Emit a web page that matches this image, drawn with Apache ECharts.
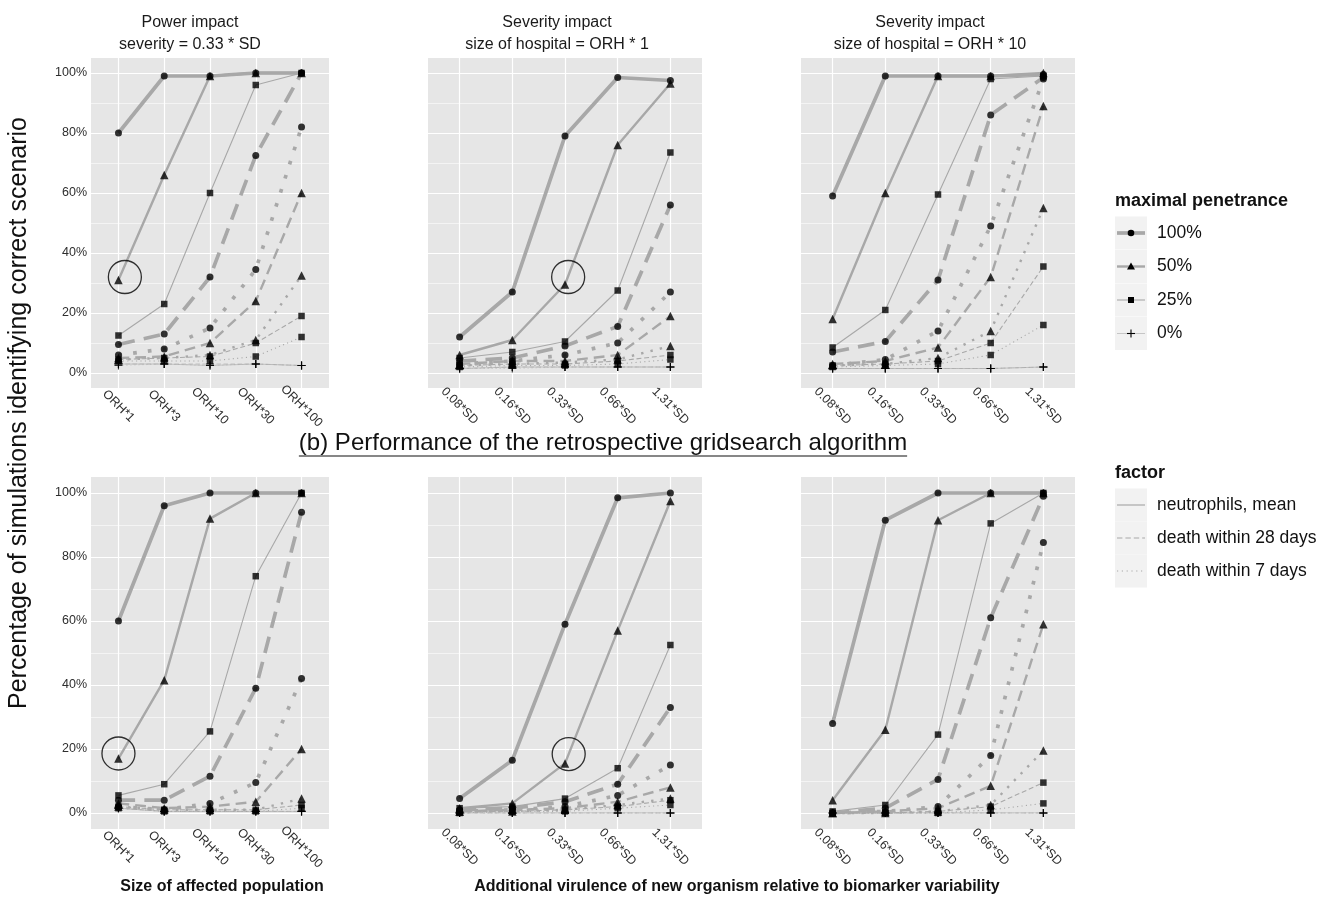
<!DOCTYPE html>
<html>
<head>
<meta charset="utf-8">
<script src="https://cdn.jsdelivr.net/npm/echarts@6/dist/echarts.min.js"></script>
<style>
    html, body { margin: 0; padding: 0; background: #fff; }
    #chart { width: 1321px; height: 902px; }
</style>
</head>
<body>
<div id="chart"></div>
<script>
// categories / labels
var orhCats = ['ORH*1', 'ORH*3', 'ORH*10', 'ORH*30', 'ORH*100'];
var sdCats = ['0.08*SD', '0.16*SD', '0.33*SD', '0.66*SD', '1.31*SD'];
var penetrance = ['100%', '50%', '25%', '0%'];
var factors = ['neutrophils, mean', 'death within 28 days', 'death within 7 days'];
var yTickStep = 20;

// % of simulations, rows = penetrance 100% / 50% / 25% / 0%
// top row: power impact (severity = 0.33*SD)
var a1Neut = [[80, 99, 99, 100, 100], [31, 66, 99, 100, 100], [12.5, 23, 60, 96, 100], [3, 3, 2.5, 3, 2.5]];
var a1D28 = [[9.5, 13, 32, 72.5, 100], [5, 5.5, 10, 24, 60], [4.5, 5, 5.5, 10, 19], [3, 3, 3, 3, 2.5]];
var a1D7 = [[6, 8, 15, 34.5, 82], [4.5, 5, 6, 11, 32.5], [4, 4, 4, 5.5, 12], [2.5, 3, 2.5, 3, 2.5]];
// top row: severity impact, hospital = ORH*1
var a2Neut = [[12, 27, 79, 98.5, 97.5], [6, 11, 29.5, 76, 96.5], [5, 7, 10.5, 27.5, 73.5], [1.5, 2, 2, 2, 2]];
var a2D28 = [[4, 5, 9, 15.5, 56], [3, 4, 4, 6, 19], [2.5, 3, 3, 4, 6], [1.5, 2, 2, 2, 2]];
var a2D7 = [[3, 4, 6, 10, 27], [2.5, 3, 3.5, 4.5, 9], [2, 2.5, 2.5, 3, 4.5], [1.5, 1.5, 2, 2, 2]];
// top row: severity impact, hospital = ORH*10
var a3Neut = [[59, 99, 99, 99, 99.5], [18, 60, 99, 99, 100], [8.5, 21, 59.5, 98, 99], [1.5, 1.5, 1.5, 1.5, 2]];
var a3D28 = [[7, 10.5, 31, 86, 98.5], [3, 4, 8.5, 32, 89], [2.5, 3, 4, 10, 35.5], [1.5, 1.5, 1.5, 1.5, 2]];
var a3D7 = [[2.5, 4.5, 14, 49, 98], [2.5, 3, 5, 14, 55], [2, 2.5, 3, 6, 16], [1.5, 1.5, 1.5, 1.5, 2]];
// (b) retrospective gridsearch
var b1Neut = [[60, 96, 100, 100, 100], [17, 41.5, 92, 100, 100], [5.5, 9, 25.5, 74, 100], [1.5, 0.5, 0.5, 0.5, 0.5]];
var b1D28 = [[4, 4, 11.5, 39, 94], [3, 1.5, 2, 3.5, 20], [2, 1, 1, 1, 2.5], [1.5, 0.5, 0.5, 0.5, 0.5]];
var b1D7 = [[2, 1, 3, 9.5, 42], [2, 1, 1, 1, 4.5], [1.5, 0.5, 0.5, 0.5, 1.5], [1.5, 0.5, 0.5, 0.5, 0.5]];
var b2Neut = [[4.5, 16.5, 59, 98.5, 100], [1.5, 3, 15.5, 57, 97.5], [1.5, 2, 4.5, 14, 52.5], [0, 0, 0, 0, 0]];
var b2D28 = [[1, 1.5, 3.5, 9, 33], [0.5, 1, 1.5, 3.5, 8], [0.5, 0.5, 1, 2, 4], [0, 0, 0, 0, 0]];
var b2D7 = [[0.5, 1, 2, 5.5, 15], [0.5, 0.5, 1, 2.5, 4.5], [0, 0.5, 0.5, 1.5, 2.5], [0, 0, 0, 0, 0]];
var b3Neut = [[28, 91.5, 100, 100, 100], [4, 26, 91.5, 100, 100], [0.5, 2.5, 24.5, 90.5, 100], [0, 0, 0, 0, 0]];
var b3D28 = [[0, 1.5, 10.5, 61, 99], [0, 0.5, 1.5, 8.5, 59], [0, 0, 0.5, 2, 9.5], [0, 0, 0, 0, 0]];
var b3D7 = [[0, 0.5, 2, 18, 84.5], [0, 0, 0.5, 2.5, 19.5], [0, 0, 0, 1, 3], [0, 0, 0, 0, 0]];

// circled points (x index, y %)
var a1Circle = [0.14, 32];
var a2Circle = [2.06, 32];
var b1Circle = [0, 18.6];
var b2Circle = [2.07, 18.4];

var FONT = '"Liberation Sans", Arial, Helvetica, sans-serif';
var LINE_GREY = '#a8a8a8';
var PANEL_BG = '#e6e6e6';
var TICK_TEXT = '#2e2e2e';
var TRANSP = 'rgba(0,0,0,0)';
var PLUS = 'path://M43,0h14v43h43v14h-43v43h-14v-43h-43v-14h43z';

var penWidth = [3.7, 2.4, 1.1, 0.6];
var penSymbol = ['circle', 'triangle', 'rect', PLUS];
var penSymbolSize = [7, 8.5, 6.5, 8];

var colLeft = [91, 428, 801], colWidth = [238, 274, 274];
var rowTop = [58, 477], rowHeight = [330, 352];

var panels = [
    { row: 0, col: 0, cats: orhCats, sets: [a1Neut, a1D28, a1D7], circle: a1Circle },
    { row: 0, col: 1, cats: sdCats, sets: [a2Neut, a2D28, a2D7], circle: a2Circle },
    { row: 0, col: 2, cats: sdCats, sets: [a3Neut, a3D28, a3D7], circle: null },
    { row: 1, col: 0, cats: orhCats, sets: [b1Neut, b1D28, b1D7], circle: b1Circle },
    { row: 1, col: 1, cats: sdCats, sets: [b2Neut, b2D28, b2D7], circle: b2Circle },
    { row: 1, col: 2, cats: sdCats, sets: [b3Neut, b3D28, b3D7], circle: null }
];

function dashFor(f, w) {
    var u = Math.max(w, 1);
    if (f === 0) return 'solid';
    if (f === 1) return [4.5 * u, 2.5 * u];
    return [u, 3 * u];
}

var grids = [], xAxes = [], yAxes = [], series = [];

panels.forEach(function (p, i) {
    grids.push({
        left: colLeft[p.col], top: rowTop[p.row],
        width: colWidth[p.col], height: rowHeight[p.row],
        show: true, backgroundColor: PANEL_BG, borderWidth: 0,
        containLabel: false, outerBoundsMode: 'none'
    });
    var cats = p.cats;
    // ticks every 0.2 from -0.6: every 5th one is a category
    xAxes.push({
        gridIndex: i, type: 'value', min: -0.6, max: 4.6, interval: 0.2,
        axisLine: { show: false }, axisTick: { show: false },
        splitLine: { show: true, lineStyle: { color: [TRANSP, TRANSP, TRANSP, '#ffffff', TRANSP], width: 1.2 } },
        axisLabel: {
            rotate: -45, align: 'center', verticalAlign: 'middle', margin: 18,
            fontSize: 12.5, fontFamily: FONT, color: TICK_TEXT,
            formatter: function (v) {
                var k = Math.round(v);
                return (Math.abs(v - k) < 1e-6 && k >= 0 && k < cats.length) ? cats[k] : '';
            }
        }
    });
    // ticks every 5 from -5: majors at 0,20..; minors at 10,30..
    yAxes.push({
        gridIndex: i, type: 'value', min: -5, max: 105, interval: 5,
        axisLine: { show: false }, axisTick: { show: false },
        splitLine: { show: true, lineStyle: { color: [TRANSP, '#ffffff', TRANSP, 'rgba(255,255,255,0.55)'], width: 1.2 } },
        axisLabel: {
            show: p.col === 0, margin: 4, fontSize: 12.5, fontFamily: FONT, color: TICK_TEXT,
            formatter: function (v) {
                return (v >= 0 && Math.abs(v % yTickStep) < 1e-6) ? v + '%' : '';
            }
        }
    });
    p.sets.forEach(function (set, f) {
        set.forEach(function (vals, k) {
            var pts = vals.map(function (v, j) { return [j, v]; });
            series.push({
                type: 'line', xAxisIndex: i, yAxisIndex: i, data: pts,
                symbol: 'none', silent: true, z: 2,
                lineStyle: { color: LINE_GREY, width: penWidth[k], type: dashFor(f, penWidth[k]), cap: 'butt', join: 'round' }
            });
            series.push({
                type: 'scatter', xAxisIndex: i, yAxisIndex: i, data: pts,
                symbol: penSymbol[k], symbolSize: penSymbolSize[k], silent: true, z: 3,
                itemStyle: { color: '#000' }
            });
        });
    });
    if (p.circle) {
        series.push({
            type: 'scatter', xAxisIndex: i, yAxisIndex: i, data: [p.circle],
            symbol: 'circle', symbolSize: 33, silent: true, z: 4,
            itemStyle: { color: TRANSP, borderColor: '#000', borderWidth: 1.3 }
        });
    }
});

// free text, legend
var graphics = [];
function text(x, y, s, size, opt) {
    opt = opt || {};
    graphics.push({
        type: 'text', x: x, y: y, rotation: opt.rotation || 0, silent: true,
        style: {
            text: s, fontSize: size, fontFamily: FONT, fontWeight: opt.weight || 'normal',
            fill: opt.color || '#1a1a1a', align: opt.align || 'left', textAlign: opt.align || 'left',
            verticalAlign: 'middle', textVerticalAlign: 'middle', lineHeight: opt.lineHeight
        }
    });
}

var titleX = [190, 557, 930];
text(titleX[0], 34, 'Power impact\nseverity = 0.33 * SD', 16, { align: 'center', lineHeight: 22 });
text(titleX[1], 34, 'Severity impact\nsize of hospital = ORH * 1', 16, { align: 'center', lineHeight: 22 });
text(titleX[2], 34, 'Severity impact\nsize of hospital = ORH * 10', 16, { align: 'center', lineHeight: 22 });

var bTitle = '(b) Performance of the retrospective gridsearch algorithm';
var bX = 603, bY = 443, bSize = 24;
text(bX, bY, bTitle, bSize, { align: 'center', color: '#111' });
var ctx = document.createElement('canvas').getContext('2d');
ctx.font = bSize + 'px ' + FONT;
var bW = ctx.measureText(bTitle).width;
graphics.push({
    type: 'line', silent: true,
    shape: { x1: bX - bW / 2, y1: bY + 13, x2: bX + bW / 2, y2: bY + 13 },
    style: { stroke: '#111', lineWidth: 1.2 }
});

text(19, 413, 'Percentage of simulations identifying correct scenario', 25, { align: 'center', rotation: Math.PI / 2, color: '#111' });
text(222, 887, 'Size of affected population', 16, { align: 'center', weight: 'bold', color: '#111' });
text(737, 887, 'Additional virulence of new organism relative to biomarker variability', 16, { align: 'center', weight: 'bold', color: '#111' });

// legend: maximal penetrance
var keyX = 1115, keyW = 32, keyH = 33;
text(keyX, 201, 'maximal penetrance', 18, { weight: 'bold', color: '#111' });
var penY = [233, 266.5, 300, 333.5];
penetrance.forEach(function (lab, k) {
    var cy = penY[k], cx = keyX + keyW / 2;
    graphics.push({ type: 'rect', silent: true, shape: { x: keyX, y: cy - keyH / 2, width: keyW, height: keyH }, style: { fill: '#f2f2f2' } });
    graphics.push({ type: 'line', silent: true, shape: { x1: keyX + 2, y1: cy, x2: keyX + keyW - 2, y2: cy }, style: { stroke: LINE_GREY, lineWidth: penWidth[k] } });
    if (k === 0) graphics.push({ type: 'circle', silent: true, shape: { cx: cx, cy: cy, r: 3.3 }, style: { fill: '#000' } });
    if (k === 1) graphics.push({ type: 'polygon', silent: true, shape: { points: [[cx, cy - 4], [cx + 4, cy + 3], [cx - 4, cy + 3]] }, style: { fill: '#000' } });
    if (k === 2) graphics.push({ type: 'rect', silent: true, shape: { x: cx - 3, y: cy - 3, width: 6, height: 6 }, style: { fill: '#000' } });
    if (k === 3) {
        graphics.push({ type: 'line', silent: true, shape: { x1: cx - 4, y1: cy, x2: cx + 4, y2: cy }, style: { stroke: '#000', lineWidth: 1.1 } });
        graphics.push({ type: 'line', silent: true, shape: { x1: cx, y1: cy - 4, x2: cx, y2: cy + 4 }, style: { stroke: '#000', lineWidth: 1.1 } });
    }
    text(1157, cy, lab, 17.5, { color: '#111' });
});

// legend: factor
text(keyX, 473, 'factor', 18, { weight: 'bold', color: '#111' });
var facY = [505, 538, 571];
factors.forEach(function (lab, f) {
    var cy = facY[f];
    graphics.push({ type: 'rect', silent: true, shape: { x: keyX, y: cy - keyH / 2, width: keyW, height: keyH }, style: { fill: '#f2f2f2' } });
    var d = dashFor(f, 1.2);
    graphics.push({ type: 'line', silent: true, shape: { x1: keyX + 2, y1: cy, x2: keyX + keyW - 2, y2: cy }, style: { stroke: LINE_GREY, lineWidth: 1.2, lineDash: d === 'solid' ? null : d } });
    text(1157, cy, lab, 17.5, { color: '#111' });
});

var chart = echarts.init(document.getElementById('chart'), null, { renderer: 'canvas' });
chart.setOption({
    animation: false,
    backgroundColor: '#ffffff',
    grid: grids,
    xAxis: xAxes,
    yAxis: yAxes,
    series: series,
    graphic: graphics
});
</script>
</body>
</html>
